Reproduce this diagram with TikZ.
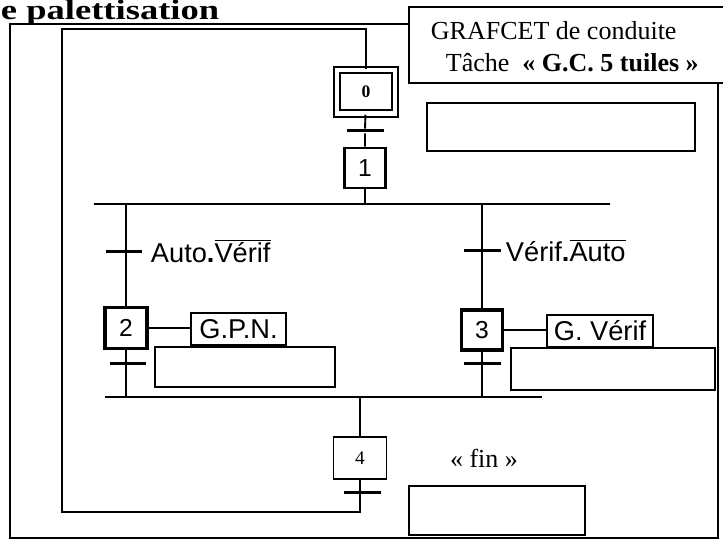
\documentclass[tikz,border=0pt]{standalone}
\usepackage{fontspec}
\usepackage{graphicx}
\setmainfont{Liberation Serif}
\newfontfamily\arialfont{Liberation Sans}
\newcommand{\barre}[1]{$\overline{\hbox{#1}}$}

\begin{document}
\begin{tikzpicture}[x=0.02cm, y=-0.02cm, line width=1.1pt,
    etape/.style={draw, inner sep=0, minimum width=0.82cm, minimum height=0.8cm,
        font=\arialfont\fontsize{14}{16}\selectfont},
    trans/.style={fill, inner sep=0, minimum width=0.74cm, minimum height=0.06cm},
    action/.style={draw, fill=white, inner sep=0, line width=1pt, minimum height=0.64cm,
        font=\arialfont\fontsize{15.5}{18}\selectfont},
    cadre/.style={draw, fill=white, inner sep=0, line width=1.1pt},
    recept/.style={inner sep=0, anchor=base west, font=\arialfont\fontsize{15.5}{18}\selectfont},
    texte/.style={inner sep=0, font=\rmfamily\fontsize{14.8}{17}\selectfont}]
    \useasboundingbox (0,0) rectangle (723,540);

    % Titre et cadre
    \node[anchor=base west, inner sep=0, font=\rmfamily\bfseries\fontsize{16}{19}\selectfont]
        (titre) at (0,20) {\scalebox{1.3}[1]{e palettisation}};
    \draw[line width=1.2pt] (10,24) rectangle (718,538);
    \node[cadre, anchor=north west, minimum width=6.6cm, minimum height=1.52cm] (entete) at (408,6) {};
    \node[texte, anchor=base west] (ligne1) at (430,40) {GRAFCET de conduite};
    \node[texte, anchor=base west] (ligne2) at (445,72) {Tâche\ \ \textbf{« G.C. 5 tuiles »}};

    % Etapes
    \node[etape, double, double distance=0.09cm, line width=0.04cm,
        minimum width=1.17cm, minimum height=0.87cm,
        font=\rmfamily\bfseries\fontsize{10}{12}\selectfont] (X0) at (366,92) {0};
    \node[etape, line width=1.7pt] (X1) at (365,168) {1};
    \node[etape, line width=2pt, minimum width=0.84cm, minimum height=0.82cm] (X2) at (126,328) {2};
    \node[etape, line width=2pt] (X3) at (482,330) {3};
    \node[etape, line width=1.1pt, minimum width=1.06cm, minimum height=0.84cm,
        font=\rmfamily\fontsize{11}{13}\selectfont] (X4) at (360,458) {4};

    % Transitions
    \node[trans] (T0) at (365,131) {};
    \node[trans] (T1) at (124,252) {};
    \node[trans] (T2) at (482,251) {};
    \node[trans] (T3) at (128,363) {};
    \node[trans] (T4) at (482,363) {};
    \node[trans] (T5) at (362,492) {};

    % Receptivites
    \node[recept] (R1) at (150,263) {Auto{\bfseries .}\barre{Vérif}};
    \node[recept] (R2) at (505,262) {Vérif{\bfseries .}\barre{Auto}};

    % Actions
    \node[cadre, minimum width=5.36cm, minimum height=0.96cm] (B0) at (561,127) {};
    \node[cadre, minimum width=3.6cm, minimum height=0.8cm] (B2) at (245,367) {};
    \node[cadre, minimum width=4.08cm, minimum height=0.84cm] (B3) at (613,369) {};
    \node[cadre, minimum width=3.52cm, minimum height=0.98cm] (B4) at (497,510.5) {};
    \node[action, minimum width=1.9cm] (A2) at (238.5,329) {G.P.N.};
    \node[action, minimum width=2.12cm] (A3) at (600,331) {G. Vérif};
    \node[texte, anchor=base] (fin) at (484,467) {« fin »};

    % Liaisons
    \coordinate (Dg) at (94,204);
    \coordinate (Dd) at (610,204);
    \coordinate (Cg) at (105,397);
    \coordinate (Cd) at (542,397);
    \coordinate (Bas) at (62,512);
    \coordinate (Haut) at (62,29);
    \draw (X0) -- (T0) -- (X1);
    \draw (X1) -- (X1 |- Dg);
    \draw (Dg) -- (Dd);
    \draw (X2 |- Dg) -- (X2) -- (X2 |- Cg);
    \draw (X3 |- Dd) -- (X3) -- (X3 |- Cd);
    \draw (Cg) -- (Cd);
    \draw (X4 |- Cg) -- (X4) -- (X4 |- Bas) -- (Bas) -- (Haut) -- (X0 |- Haut) -- (X0);
    \draw (X2) -- (X2 -| A2.west);
    \draw (X3) -- (X3 -| A3.west);
\end{tikzpicture}
\end{document}
